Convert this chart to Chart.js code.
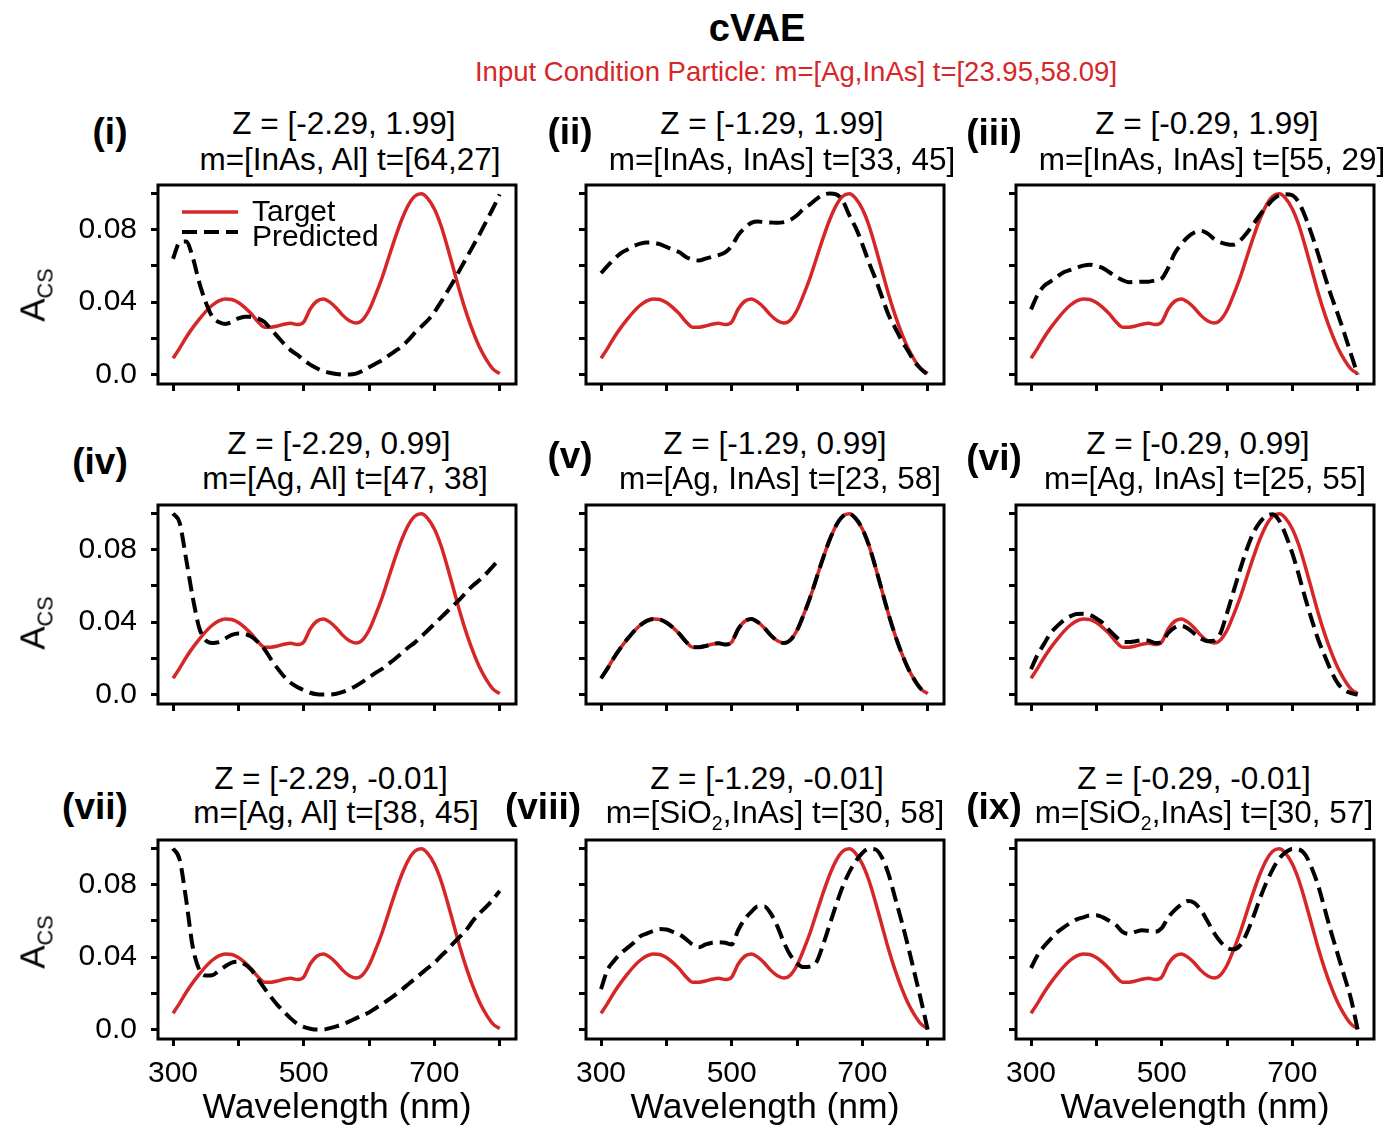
<!DOCTYPE html>
<html>
<head>
<meta charset="utf-8">
<script src="https://cdn.jsdelivr.net/npm/chart.js@4.4.0/dist/chart.umd.min.js"></script>
<style>
  html, body { margin: 0; padding: 0; background: #fff; width: 1390px; height: 1128px; overflow: hidden; }
  body { position: relative; font-family: "Liberation Sans", Arial, sans-serif; color: #000; }
  .t { position: absolute; white-space: nowrap; transform: translate(-50%, -50%); line-height: 1; }
  .sub { font-size: 0.62em; position: relative; top: 0.35em; }
  canvas { position: absolute; }
</style>
</head>
<body>
<div class="t" style="left:757px;top:28px;font-size:38px;font-weight:bold">cVAE</div>
<div class="t" style="left:796px;top:72px;font-size:27.5px;color:#d62728">Input Condition Particle: m=[Ag,InAs] t=[23.95,58.09]</div>
<script>
// wavelength grid (nm)
const wavelengths = [300, 310, 320, 330, 340, 350, 360, 370, 380, 390,
    400, 410, 420, 430, 440, 450, 460, 470, 480, 490,
    500, 510, 520, 530, 540, 550, 560, 570, 580, 590,
    600, 610, 620, 630, 640, 650, 660, 670, 680, 690,
    700, 710, 720, 730, 740, 750, 760, 770, 780, 790, 800];

// target spectrum (same in every panel)
const target = [0.009, 0.0145, 0.0205, 0.0258, 0.0305, 0.0348, 0.0383, 0.0407, 0.0418, 0.0415,
    0.0398, 0.0370, 0.0335, 0.0292, 0.0262, 0.0262, 0.0268, 0.0278, 0.0284, 0.0276,
    0.0290, 0.0362, 0.0405, 0.0418, 0.0400, 0.0368, 0.0327, 0.0297, 0.0285, 0.0302,
    0.0355, 0.0440, 0.0535, 0.0645, 0.0755, 0.0855, 0.0935, 0.0985, 0.0998, 0.0972,
    0.0915, 0.0825, 0.0705, 0.0575, 0.0445, 0.0330, 0.0230, 0.0145, 0.0080, 0.0030, 0.0005];

// predicted spectra, panels (i)..(ix)
const pred1 = [0.064, 0.073, 0.0735, 0.065, 0.051, 0.040, 0.032, 0.029, 0.028, 0.029,
    0.031, 0.032, 0.032, 0.031, 0.029, 0.025, 0.021, 0.017, 0.0135, 0.011,
    0.008, 0.0055, 0.0035, 0.002, 0.001, 0.0003, 0, 0, 0.0005, 0.002,
    0.004, 0.006, 0.008, 0.0105, 0.013, 0.0155, 0.019, 0.023, 0.0265, 0.030,
    0.0345, 0.040, 0.046, 0.052, 0.0585, 0.065, 0.0715, 0.078, 0.085, 0.092, 0.0995];
const pred2 = [0.056, 0.060, 0.0637, 0.067, 0.069, 0.071, 0.0723, 0.0729, 0.0728, 0.072,
    0.0705, 0.069, 0.0675, 0.065, 0.0635, 0.063, 0.064, 0.065, 0.066, 0.0675,
    0.071, 0.077, 0.081, 0.0838, 0.0845, 0.0842, 0.084, 0.0838, 0.0842, 0.0855,
    0.088, 0.0915, 0.094, 0.097, 0.0993, 0.1, 0.0995, 0.096, 0.088, 0.081,
    0.072, 0.062, 0.053, 0.043, 0.033, 0.026, 0.019, 0.013, 0.007, 0.003, 0];
const pred3 = [0.036, 0.044, 0.049, 0.0515, 0.054, 0.0565, 0.0578, 0.059, 0.0602, 0.0607,
    0.060, 0.0588, 0.0565, 0.054, 0.0522, 0.051, 0.0512, 0.0513, 0.0513, 0.052,
    0.053, 0.059, 0.067, 0.072, 0.076, 0.0785, 0.0794, 0.078, 0.075, 0.073,
    0.072, 0.0717, 0.074, 0.078, 0.083, 0.088, 0.0925, 0.0965, 0.099, 0.0996,
    0.099, 0.095, 0.087, 0.077, 0.066, 0.054, 0.043, 0.033, 0.0224, 0.011, 0];
const pred4 = [0.1, 0.095, 0.075, 0.054, 0.037, 0.030, 0.0285, 0.029, 0.031, 0.033,
    0.0338, 0.0335, 0.032, 0.029, 0.025, 0.0195, 0.0145, 0.010, 0.0065, 0.0042,
    0.0025, 0.001, 0.0002, 0, 0, 0.0005, 0.0015, 0.003, 0.0048, 0.007,
    0.0095, 0.012, 0.0142, 0.017, 0.0198, 0.0228, 0.026, 0.0287, 0.032, 0.0355,
    0.039, 0.0425, 0.046, 0.0495, 0.053, 0.057, 0.0605, 0.0635, 0.067, 0.071, 0.0747];
const pred5 = [0.009, 0.0145, 0.0205, 0.0258, 0.0305, 0.0348, 0.0383, 0.0407, 0.0418, 0.0415,
    0.0398, 0.0370, 0.0335, 0.0292, 0.0262, 0.0262, 0.0268, 0.0278, 0.0284, 0.0276,
    0.0290, 0.0362, 0.0405, 0.0418, 0.0400, 0.0368, 0.0327, 0.0297, 0.0285, 0.0302,
    0.0355, 0.0440, 0.0535, 0.0645, 0.0755, 0.0855, 0.0935, 0.0985, 0.0998, 0.0972,
    0.0915, 0.0825, 0.0705, 0.0575, 0.0445, 0.0330, 0.0230, 0.0145, 0.0080, 0.0030, 0.0005];
const pred6 = [0.014, 0.022, 0.028, 0.034, 0.0378, 0.041, 0.0432, 0.0445, 0.0446, 0.044,
    0.042, 0.0395, 0.0355, 0.032, 0.0292, 0.029, 0.0295, 0.030, 0.0298, 0.0285,
    0.029, 0.034, 0.037, 0.038, 0.0365, 0.0336, 0.031, 0.0295, 0.0298, 0.034,
    0.045, 0.057, 0.069, 0.080, 0.089, 0.095, 0.0985, 0.0996, 0.096, 0.088,
    0.078, 0.066, 0.053, 0.041, 0.030, 0.021, 0.0125, 0.006, 0.0025, 0.0008, 0];
const pred7 = [0.1, 0.094, 0.072, 0.046, 0.0332, 0.0298, 0.030, 0.0325, 0.035, 0.037,
    0.0375, 0.036, 0.033, 0.028, 0.0228, 0.018, 0.0135, 0.0098, 0.0062, 0.0032,
    0.0015, 0.0005, 0, 0, 0.0008, 0.0018, 0.003, 0.0045, 0.0062, 0.0078,
    0.0095, 0.0118, 0.014, 0.0165, 0.0192, 0.022, 0.025, 0.028, 0.031, 0.034,
    0.0368, 0.0405, 0.044, 0.048, 0.0516, 0.0555, 0.0605, 0.0645, 0.068, 0.072, 0.0766];
const pred8 = [0.0224, 0.033, 0.038, 0.042, 0.045, 0.048, 0.0515, 0.053, 0.0545, 0.0555,
    0.0553, 0.054, 0.0525, 0.050, 0.047, 0.0455, 0.047, 0.048, 0.0482, 0.048,
    0.047, 0.055, 0.061, 0.065, 0.068, 0.068, 0.064, 0.057, 0.048, 0.041,
    0.0365, 0.0345, 0.0348, 0.0375, 0.047, 0.058, 0.069, 0.079, 0.087, 0.093,
    0.0975, 0.0998, 0.0995, 0.095, 0.086, 0.073, 0.060, 0.046, 0.031, 0.016, 0];
const pred9 = [0.034, 0.041, 0.046, 0.050, 0.0537, 0.0565, 0.0588, 0.0609, 0.062, 0.063,
    0.0631, 0.062, 0.060, 0.0578, 0.054, 0.0528, 0.054, 0.0548, 0.0545, 0.054,
    0.056, 0.062, 0.066, 0.069, 0.071, 0.070, 0.066, 0.060, 0.0535, 0.0485,
    0.045, 0.0443, 0.0465, 0.053, 0.062, 0.072, 0.081, 0.0885, 0.0945, 0.098,
    0.0998, 0.0995, 0.0965, 0.089, 0.079, 0.066, 0.053, 0.041, 0.029, 0.0166, 0];
const predicted = [pred1, pred2, pred3, pred4, pred5, pred6, pred7, pred8, pred9];

// panel texts
const tags = ['(i)', '(ii)', '(iii)', '(iv)', '(v)', '(vi)', '(vii)', '(viii)', '(ix)'];
const zLabels = ['Z = [-2.29, 1.99]', 'Z = [-1.29, 1.99]', 'Z = [-0.29, 1.99]',
    'Z = [-2.29, 0.99]', 'Z = [-1.29, 0.99]', 'Z = [-0.29, 0.99]',
    'Z = [-2.29, -0.01]', 'Z = [-1.29, -0.01]', 'Z = [-0.29, -0.01]'];
const mLabels = ['m=[InAs, Al] t=[64,27]', 'm=[InAs, InAs] t=[33, 45]', 'm=[InAs, InAs] t=[55, 29]',
    'm=[Ag, Al] t=[47, 38]', 'm=[Ag, InAs] t=[23, 58]', 'm=[Ag, InAs] t=[25, 55]',
    'm=[Ag, Al] t=[38, 45]', 'm=[SiO<span class="sub">2</span>,InAs] t=[30, 58]', 'm=[SiO<span class="sub">2</span>,InAs] t=[30, 57]'];

// axes
const xTicks = [300, 400, 500, 600, 700, 800];
const xTickText = ['300', '', '500', '', '700', ''];
const yTicks = [0, 0.02, 0.04, 0.06, 0.08, 0.1];
const yTickText = ['0.0', '', '0.04', '', '0.08', ''];

// layout (pixels)
const colLeft = [158, 586, 1016];
const rowTop = [185, 505, 840];
const areaW = 358, areaH = 199, yAxisW = 110, padTop = 6, padRight = 6;
const title1X = [344, 772, 1207, 339, 775, 1198, 331, 767, 1194];
const title2X = [350, 782, 1212, 345, 780, 1205, 336, 775, 1204];
const title1Y = [124, 444, 779];
const title2Y = [160, 479, 813];
const tagPos = [[110, 131], [570, 131], [994, 132], [100, 461], [570, 455], [994, 457], [95, 806], [543, 806], [994, 806]];
const yTitleY = [295, 623, 942];

const RED = '#d62728';
const FONT = "'Liberation Sans', Arial, sans-serif";
Chart.defaults.font.family = FONT;
Chart.defaults.color = '#000';

function addText(html, x, y, style) {
    const d = document.createElement('div');
    d.className = 't';
    d.innerHTML = html;
    d.style.left = x + 'px';
    d.style.top = y + 'px';
    Object.assign(d.style, style);
    document.body.appendChild(d);
    return d;
}

const framePlugin = {
    id: 'frame',
    afterDatasetsDraw(chart) {
        const {ctx, chartArea: a} = chart;
        ctx.save();
        ctx.lineWidth = 3;
        ctx.strokeStyle = '#000';
        ctx.strokeRect(a.left, a.top, a.right - a.left, a.bottom - a.top);
        ctx.restore();
    }
};

// legend drawn inside the first panel
const lineLegend = {
    id: 'lineLegend',
    afterDraw(chart, args, opts) {
        if (!opts.show) return;
        const {ctx, chartArea: a} = chart;
        ctx.save();
        chart.data.datasets.forEach((ds, i) => {
            const ly = a.top + 27 + i * 20;
            ctx.strokeStyle = ds.borderColor;
            ctx.lineWidth = ds.borderWidth;
            ctx.setLineDash(ds.borderDash || []);
            ctx.beginPath();
            ctx.moveTo(a.left + 24, ly);
            ctx.lineTo(a.left + 80, ly);
            ctx.stroke();
            ctx.setLineDash([]);
            ctx.fillStyle = '#000';
            ctx.font = '30px ' + FONT;
            ctx.textBaseline = 'middle';
            ctx.fillText(ds.label, a.left + 94, a.top + 28 + i * 25);
        });
        ctx.restore();
    }
};

for (let p = 0; p < 9; p++) {
    const r = Math.floor(p / 3), c = p % 3;
    const bottomRow = r === 2;
    const xAxisH = bottomRow ? 92 : 12;
    const cv = document.createElement('canvas');
    const w = yAxisW + areaW + padRight;
    const h = padTop + areaH + xAxisH;
    cv.width = w; cv.height = h;
    cv.style.left = (colLeft[c] - yAxisW) + 'px';
    cv.style.top = (rowTop[r] - padTop) + 'px';
    cv.style.width = w + 'px'; cv.style.height = h + 'px';
    document.body.appendChild(cv);

    addText(zLabels[p], title1X[p], title1Y[r], {fontSize: '31.5px'});
    addText(mLabels[p], title2X[p], title2Y[r], {fontSize: '31.5px'});
    addText(tags[p], tagPos[p][0], tagPos[p][1], {fontSize: '37px', fontWeight: 'bold'});
    if (c === 0) {
        addText('A<span class="sub">CS</span>', 32, yTitleY[r], {fontSize: '35px', transform: 'translate(-50%, -50%) rotate(-90deg)'});
    }

    new Chart(cv, {
        type: 'line',
        data: {
            datasets: [{
                label: 'Target',
                data: wavelengths.map((x, i) => ({x: x, y: target[i]})),
                borderColor: RED,
                borderWidth: 3.5,
                pointRadius: 0,
                cubicInterpolationMode: 'monotone',
                order: 1
            }, {
                label: 'Predicted',
                data: wavelengths.map((x, i) => ({x: x, y: predicted[p][i]})),
                borderColor: '#000',
                borderWidth: 4,
                borderDash: [15, 7],
                pointRadius: 0,
                cubicInterpolationMode: 'monotone',
                order: 0
            }]
        },
        options: {
            responsive: false,
            animation: false,
            devicePixelRatio: 1,
            layout: {padding: {top: padTop, right: padRight, left: 0, bottom: 0}},
            plugins: {
                legend: {display: false},
                tooltip: {enabled: false},
                lineLegend: {show: p === 0}
            },
            scales: {
                x: {
                    type: 'linear',
                    min: 277,
                    max: 825,
                    afterBuildTicks: s => { s.ticks = xTicks.map(v => ({value: v})); },
                    afterFit: s => { s.height = xAxisH; s.paddingLeft = 0; s.paddingRight = 0; },
                    border: {display: false},
                    grid: {display: true, drawOnChartArea: false, drawTicks: true, tickLength: 7, lineWidth: 3, color: '#000'},
                    ticks: {
                        autoSkip: false,
                        maxRotation: 0,
                        padding: 10,
                        font: {size: 30},
                        color: '#000',
                        callback: (v, i) => bottomRow ? xTickText[i] : ''
                    },
                    title: {display: bottomRow, text: 'Wavelength (nm)', font: {size: 35.5}, color: '#000', padding: {top: 0, bottom: 1}}
                },
                y: {
                    min: -0.0052,
                    max: 0.1047,
                    afterBuildTicks: s => { s.ticks = yTicks.map(v => ({value: v})); },
                    afterFit: s => { s.width = yAxisW; s.paddingTop = 0; s.paddingBottom = 0; },
                    border: {display: false},
                    grid: {display: true, drawOnChartArea: false, drawTicks: true, tickLength: 7, lineWidth: 3, color: '#000'},
                    ticks: {
                        autoSkip: false,
                        padding: 14,
                        font: {size: 30},
                        color: '#000',
                        callback: (v, i) => c === 0 ? yTickText[i] : ''
                    }
                }
            }
        },
        plugins: [framePlugin, lineLegend]
    });
}
</script>
</body>
</html>
